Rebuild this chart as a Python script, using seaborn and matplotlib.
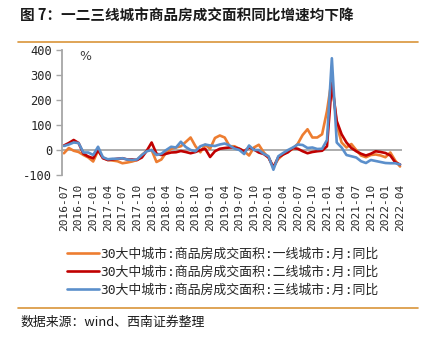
import matplotlib
matplotlib.use("Agg")
import matplotlib.pyplot as plt
import seaborn as sns
import pandas as pd
import numpy as np

# ---- data (monthly 2016-07 .. 2022-04) ----
months = [str(p) for p in pd.period_range("2016-07", "2022-04", freq="M")]

tier1 = [-13, 8, -3, -8, -20, -30, -46, -3, -30, -40, -42, -45, -53, -50, -46, -40,
         -20, -3, 0, -48, -38, -10, 5, 10, 15, 32, 50, 15, -9, 21, 5, 48, 58, 50, 15,
         15, 5, -5, -22, 10, 21, -9, -30, -69, -36, -18, -5, 4, 25, 60, 83, 50, 50, 63, 156,
         285, 100, 30, 10, 24, 0, -22, -29, -20, -18, -22, -29, -10, -42, -66]
tier2 = [18, 28, 40, 28, -15, -26, -33, 0, -33, -40, -38, -35, -33, -38, -38, -40,
         -30, -3, 30, -15, -20, -15, -10, -9, -4, -8, -13, -8, 0, 5, -28, -5, 5, 8, 10,
         10, 5, -5, 10, 2, -10, -16, -30, -69, -29, -18, -9, 8, 5, -5, -13, -8, -5, -3, 15,
         268, 116, 63, 30, 8, -5, -15, -22, -15, -5, -8, -12, -22, -49, -58]
tier3 = [16, 22, 30, 28, -10, -10, -20, 13, -29, -37, -35, -35, -33, -38, -40, -38,
         -20, -5, 0, -20, -15, 0, 13, 10, 33, 12, 0, -5, 15, 22, 18, 16, 22, 26, 18,
         6, 0, -16, 18, 0, 0, -15, -25, -79, -25, -12, 0, 10, 22, 20, 8, 10, 4, 5, 40,
         367, 30, 10, -20, -25, -30, -45, -52, -40, -44, -48, -52, -53, -53, -58]

series_names = ["30大中城市:商品房成交面积:一线城市:月:同比",
                "30大中城市:商品房成交面积:二线城市:月:同比",
                "30大中城市:商品房成交面积:三线城市:月:同比"]
colors = ["#ED7D31", "#C00000", "#5B8FCB"]
yticks = [-100, 0, 100, 200, 300, 400]

title = "图 7：一二三线城市商品房成交面积同比增速均下降"
source = "数据来源：wind、西南证券整理"

# ---- build long table ----
rows = []
for name, vals in zip(series_names, [tier1, tier2, tier3]):
    for i, v in enumerate(vals):
        rows.append({"idx": i, "month": months[i], "value": v, "series": name})
df = pd.DataFrame(rows)

sns.set_theme(style="white")
plt.rcParams["font.family"] = ["Noto Sans CJK SC", "DejaVu Sans"]

W, H = 428, 338
fig = plt.figure(figsize=(W / 100, H / 100), dpi=100)
fig.patch.set_facecolor("white")

ax_l, ax_r, ax_t, ax_b = 62, 402, 50, 175
ax = fig.add_axes([ax_l / W, 1 - ax_b / H, (ax_r - ax_l) / W, (ax_b - ax_t) / H])

sns.lineplot(data=df, x="idx", y="value", hue="series", hue_order=series_names,
             palette=colors, linewidth=1.9, ax=ax, legend=True)

ax.set_xlim(-0.4, len(months) - 0.6)
ax.set_ylim(-100, 400)
ax.axhline(0, color="#A6A6A6", linewidth=1.3, zorder=0)

for s in ["top", "right", "bottom"]:
    ax.spines[s].set_visible(False)
ax.spines["left"].set_color("#A6A6A6")
ax.spines["left"].set_linewidth(1.3)

ax.set_yticks(yticks)
ax.set_yticklabels([str(v) for v in yticks], family="DejaVu Sans Mono", fontsize=8.7)
ax.tick_params(axis="y", direction="out", length=4, width=1.0, color="#A6A6A6", pad=3, left=True)

xt = list(range(0, len(months), 3))
ax.set_xticks(xt)
ax.set_xticklabels([months[i] for i in xt], rotation=90, family="DejaVu Sans Mono", fontsize=8.0)
ax.tick_params(axis="x", length=0, pad=6)
ax.set_xlabel("")
ax.set_ylabel("")
ax.grid(False)

ax.text((85 - ax_l) / (ax_r - ax_l), (ax_b - 56) / (ax_b - ax_t), "%",
        transform=ax.transAxes, fontsize=9, color="#404040", ha="center", va="center",
        family="DejaVu Sans")

handles, labels = ax.get_legend_handles_labels()
ax.get_legend().remove()
fig.legend(handles, labels, loc="upper left", bbox_to_anchor=(67 / W, 1 - 248 / H),
           frameon=False, borderpad=0, borderaxespad=0, handlelength=2.5,
           handletextpad=0.05, labelspacing=0.36,
           prop={"family": ["DejaVu Sans Mono", "Noto Sans CJK SC"], "size": 9.3})

# title and rules
fig.text(20 / W, 1 - 16 / H, title, fontsize=10.5, fontweight="bold", va="center", ha="left",
         color="#1a1a1a")
fig.add_artist(plt.Line2D([18 / W, 418 / W], [1 - 42 / H, 1 - 42 / H], color="#D9953A", linewidth=1.2))
fig.add_artist(plt.Line2D([18 / W, 418 / W], [1 - 308 / H, 1 - 308 / H], color="#D9953A", linewidth=1.2))
fig.text(20 / W, 1 - 322 / H, source, fontsize=9.3, style="italic", va="center", ha="left",
         color="#1a1a1a")

fig.savefig("out.png", dpi=100, facecolor="white")
